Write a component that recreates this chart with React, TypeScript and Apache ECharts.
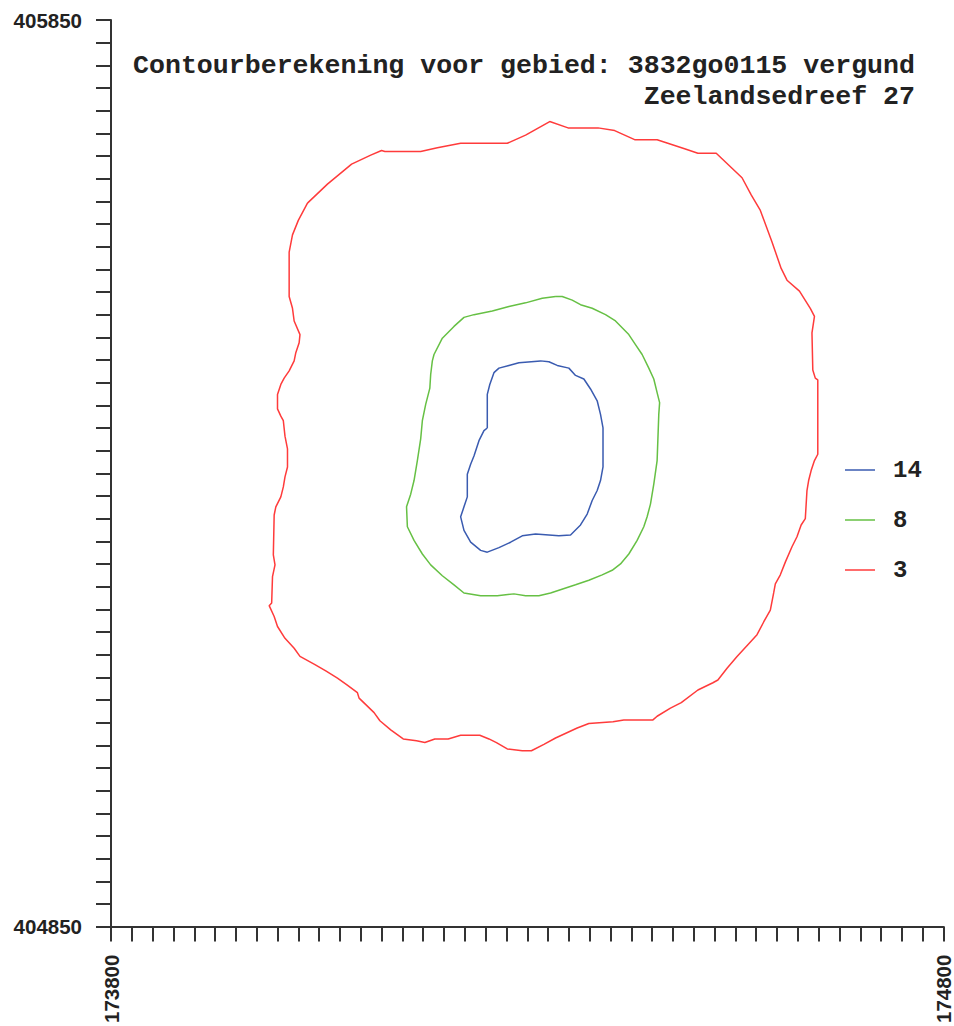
import React, { useEffect, useRef } from "react";
import * as echarts from "echarts";

const X_MIN = 173800;
const X_MAX = 174800;
const Y_MIN = 404850;
const Y_MAX = 405850;
const TICK_STEP = 25;

const xTickLabels = [173800, 174800];
const yTickLabels = [404850, 405850];

const titleLines = ["Contourberekening voor gebied: 3832go0115 vergund", "Zeelandsedreef 27"];

const contourLevels = ["14", "8", "3"];
const contourColors = ["#3a5bb0", "#66c044", "#ff3b3b"];

const contour14: [number, number][] = [
  [174252, 405400], [174252, 405437], [174255, 405448], [174260, 405461], [174266, 405466],
  [174278, 405469], [174290, 405472], [174316, 405474], [174326, 405473], [174336, 405469],
  [174350, 405466], [174358, 405458], [174368, 405454], [174376, 405443], [174384, 405430],
  [174388, 405415], [174391, 405400], [174391, 405357], [174388, 405342], [174384, 405331],
  [174378, 405320], [174372, 405305], [174364, 405293], [174352, 405282], [174338, 405281],
  [174310, 405283], [174294, 405281], [174280, 405274], [174266, 405268], [174252, 405263],
  [174244, 405265], [174232, 405274], [174224, 405287], [174220, 405302], [174224, 405313],
  [174228, 405324], [174228, 405349], [174232, 405360], [174236, 405369], [174242, 405386],
  [174248, 405397], [174252, 405400],
];

const contour8: [number, number][] = [
  [174334, 405545], [174342, 405545], [174354, 405541], [174364, 405536], [174378, 405532],
  [174394, 405525], [174406, 405518], [174422, 405503], [174430, 405492], [174438, 405481],
  [174446, 405466], [174452, 405454], [174456, 405439], [174459, 405428], [174458, 405415],
  [174456, 405364], [174452, 405338], [174448, 405316], [174444, 405302], [174440, 405291],
  [174432, 405276], [174422, 405261], [174412, 405250], [174402, 405243], [174390, 405238],
  [174374, 405232], [174358, 405227], [174338, 405221], [174328, 405218], [174314, 405215],
  [174298, 405215], [174284, 405217], [174264, 405215], [174244, 405215], [174224, 405218],
  [174212, 405227], [174198, 405237], [174184, 405249], [174174, 405261], [174164, 405276],
  [174156, 405291], [174155, 405313], [174160, 405327], [174164, 405342], [174168, 405364],
  [174172, 405388], [174174, 405408], [174178, 405426], [174183, 405444], [174184, 405459],
  [174186, 405474], [174188, 405481], [174198, 405499], [174212, 405512], [174224, 405522],
  [174236, 405525], [174258, 405529], [174278, 405534], [174298, 405538], [174318, 405543],
  [174334, 405545],
];

const contour3: [number, number][] = [
  [174036, 405648], [174060, 405669], [174089, 405691], [174112, 405701], [174125, 405706],
  [174129, 405705], [174172, 405705], [174192, 405709], [174220, 405714], [174276, 405714],
  [174298, 405723], [174327, 405738], [174349, 405731], [174385, 405731], [174405, 405728],
  [174429, 405718], [174456, 405718], [174489, 405708], [174505, 405703], [174527, 405703],
  [174558, 405676], [174569, 405657], [174580, 405640], [174594, 405605], [174605, 405576],
  [174612, 405563], [174627, 405551], [174640, 405532], [174645, 405523], [174642, 405505],
  [174643, 405464], [174646, 405455], [174649, 405453], [174649, 405371], [174645, 405364],
  [174641, 405353], [174638, 405342], [174636, 405331], [174634, 405300], [174629, 405293],
  [174624, 405280], [174618, 405269], [174610, 405252], [174604, 405238], [174598, 405228],
  [174596, 405218], [174592, 405199], [174584, 405186], [174576, 405172], [174565, 405161],
  [174552, 405148], [174540, 405135], [174529, 405122], [174523, 405119], [174505, 405111],
  [174485, 405097], [174472, 405091], [174456, 405082], [174451, 405078], [174416, 405078],
  [174403, 405076], [174374, 405074], [174360, 405069], [174334, 405058], [174320, 405051],
  [174305, 405044], [174294, 405044], [174276, 405046], [174263, 405053], [174254, 405057],
  [174243, 405061], [174220, 405061], [174205, 405057], [174189, 405057], [174177, 405053],
  [174167, 405055], [174151, 405057], [174136, 405067], [174123, 405077], [174116, 405086],
  [174098, 405102], [174096, 405108], [174083, 405117], [174072, 405124], [174058, 405132],
  [174045, 405139], [174027, 405148], [174020, 405157], [174009, 405168], [174000, 405181],
  [173996, 405192], [173990, 405204], [173993, 405207], [173994, 405236], [173997, 405249],
  [173995, 405260], [173996, 405304], [173998, 405313], [174004, 405324], [174007, 405335],
  [174009, 405346], [174012, 405357], [174012, 405377], [174009, 405391], [174007, 405408],
  [174004, 405413], [174000, 405421], [174000, 405437], [174004, 405448], [174008, 405455],
  [174014, 405463], [174020, 405474], [174022, 405483], [174026, 405494], [174027, 405503],
  [174020, 405518], [174018, 405532], [174014, 405545], [174014, 405594], [174018, 405613],
  [174025, 405629], [174036, 405648],
];

const contourData = [contour14, contour8, contour3];

const MONO = "'Liberation Mono', 'Courier New', monospace";
const SANS = "'Liberation Sans', Arial, sans-serif";

export default function App() {
  const ref = useRef<HTMLDivElement>(null);

  useEffect(() => {
    if (!ref.current) return;
    const chart = echarts.init(ref.current, null, { renderer: "svg" });
    const axisColor = "#333";
    const labelColor = "#222";
    chart.setOption({
      animation: false,
      backgroundColor: "#ffffff",
      graphic: titleLines.map((line, i) => ({
        type: "text",
        right: 39,
        top: 52 + i * 31,
        silent: true,
        style: {
          text: line,
          fontFamily: MONO,
          fontSize: 26.6,
          fontWeight: "bold",
          fill: labelColor,
        },
      })),
      legend: {
        orient: "vertical",
        left: 845,
        top: 458,
        padding: 0,
        icon: "rect",
        itemWidth: 30,
        itemHeight: 1.5,
        itemGap: 26,
        data: contourLevels,
        textStyle: {
          fontFamily: MONO,
          fontSize: 24,
          fontWeight: "bold",
          lineHeight: 24,
          color: labelColor,
          padding: [0, 0, 0, 13],
        },
      },
      grid: { left: 111, top: 20, width: 834, height: 912, containLabel: false },
      xAxis: {
        type: "value",
        min: X_MIN,
        max: X_MAX,
        interval: TICK_STEP,
        axisLine: { show: true, onZero: false, lineStyle: { color: axisColor, width: 2 } },
        axisTick: { show: true, length: 15, lineStyle: { color: axisColor, width: 2 } },
        splitLine: { show: false },
        axisLabel: {
          show: true,
          rotate: 90,
          margin: 28,
          fontFamily: SANS,
          fontSize: 20.5,
          fontWeight: "bold",
          color: labelColor,
          formatter: (v: number) => (xTickLabels.includes(v) ? String(v) : ""),
        },
      },
      yAxis: {
        type: "value",
        min: Y_MIN,
        max: Y_MAX,
        interval: TICK_STEP,
        axisLine: { show: true, onZero: false, lineStyle: { color: axisColor, width: 2 } },
        axisTick: { show: true, length: 15, lineStyle: { color: axisColor, width: 2 } },
        splitLine: { show: false },
        axisLabel: {
          show: true,
          margin: 29,
          fontFamily: SANS,
          fontSize: 20.5,
          fontWeight: "bold",
          color: labelColor,
          formatter: (v: number) => (yTickLabels.includes(v) ? String(v) : ""),
        },
      },
      series: contourLevels.map((name, i) => ({
        type: "line",
        name,
        data: contourData[i],
        symbol: "none",
        smooth: false,
        silent: true,
        lineStyle: { color: contourColors[i], width: 1.5 },
        itemStyle: { color: contourColors[i] },
      })),
    });
    return () => chart.dispose();
  }, []);

  return (
    <div
      ref={ref}
      style={{ position: "fixed", left: 0, top: 0, width: 954, height: 1026, background: "#fff" }}
    />
  );
}
